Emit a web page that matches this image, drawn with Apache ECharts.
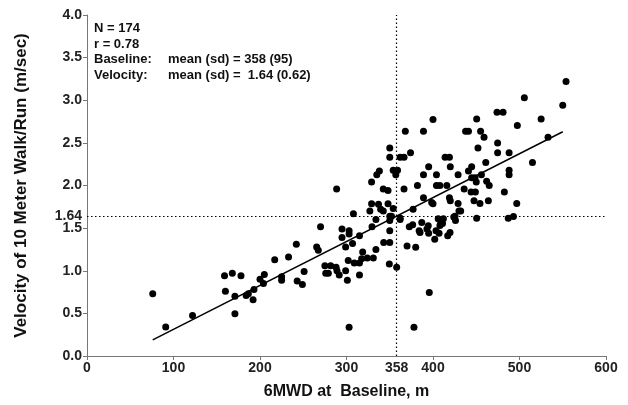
<!DOCTYPE html>
<html><head><meta charset="utf-8">
<script src="https://cdn.jsdelivr.net/npm/echarts@6/dist/echarts.min.js"></script>
<style>html,body{margin:0;padding:0;background:#fff}#c{width:628px;height:405px}</style>
</head><body><div id="c"></div>
<script>
// 6MWD at baseline (m) and velocity (m/sec) for each patient
const baseline6mwd = [
 76,91,122,159,160,168,178,171,171,184,186.5,193,192,200,205,204,217,225,225,233,242,243,249,251,
 265.5,267.4,270,275,281.7,276,279,288,289,291.6,294.8,294.8,303,303,307,299,299,301,302,303,309,315,315,315,318.7,317.5,324,331,329.5,334,334,
 343,350,349.5,350,350,358,362,370,372.6,376.5,380,384,387,393,395,395.7,378,402,407,406,409,412,417,419.7,426,
 400,368,389,350,350,374,362,366.5,354,359,357,338,335,329,342.5,348,288.6,366.5,382,389,395,404,414,419,420,429,404,408,416,
 389,398.5,400,419,420,430,329,327,337,339.5,342.5,348,354,350,352,362,308,377,394.5,411,408,424,403.5,385,
 553.8,550,505.6,474,481,525,497.5,533,450.5,437.7,441,455,459,474.7,452,474.7,488,515,461,444.7,441,456,444.7,448.5,488,488,450,462,465,436,444,449,482.5,
 429,447.4,454.3,464,496.8,432,425.4,450.5,487,493
];
const velocity = [
 0.73,0.34,0.475,0.94,0.76,0.97,0.94,0.70,0.495,0.71,0.73,0.78,0.66,0.90,0.955,0.85,1.13,0.93,0.89,1.16,1.31,0.88,0.84,0.99,
 1.28,1.24,1.515,1.06,1.06,0.97,0.97,1.04,1.00,0.95,1.49,1.39,1.47,1.43,1.32,1.28,1.00,0.89,1.12,0.336,1.09,1.09,1.41,0.95,1.22,1.14,1.15,1.15,1.515,1.25,1.60,
 1.33,1.33,1.08,1.47,1.59,1.04,1.60,1.29,1.515,1.54,1.275,1.47,1.565,1.49,1.44,0.745,0.336,1.37,1.44,1.61,1.565,1.61,1.41,1.45,1.59,
 2.775,2.635,2.635,2.44,2.33,2.385,2.33,2.33,2.18,2.18,2.125,2.17,2.125,2.04,1.96,1.94,1.96,1.96,2.0,2.125,2.22,2.125,2.33,2.33,2.22,2.125,2.0,2.0,2.0,
 1.855,1.80,1.785,1.855,1.82,1.70,1.785,1.70,1.78,1.72,1.70,1.785,1.73,1.64,1.64,1.62,1.67,1.72,1.527,1.555,1.53,1.63,1.47,1.45,
 3.22,2.94,3.03,2.86,2.86,2.78,2.705,2.565,2.78,2.635,2.635,2.635,2.565,2.50,2.44,2.385,2.385,2.27,2.27,2.22,2.17,2.125,2.09,2.09,2.18,2.125,2.04,2.05,2.0,1.96,1.925,1.925,1.925,
 1.79,1.82,1.79,1.82,1.79,1.70,1.64,1.615,1.615,1.635
];
// regression line end points
const fitX = [76, 550];
const fitY = [0.19, 2.63];
// reference lines (means)
const meanBaseline = 358;
const meanVelocity = 1.64;
const xTickLabels = [0,100,200,300,358,400,500,600];
const yTickLabels = [0,0.5,1,1.5,1.64,2,2.5,3,3.5,4];
const statsLeft = ['N = 174','r = 0.78','Baseline:','Velocity:'];
const statsRight = ['','','mean (sd) = 358 (95)','mean (sd) =  1.64 (0.62)'];

const pts = baseline6mwd.map((x,i)=>[x, velocity[i]]);
const fit = fitX.map((x,i)=>[x, fitY[i]]);
const chart = echarts.init(document.getElementById('c'), null, {renderer:'canvas'});
const FONT = 'Liberation Sans, Arial, sans-serif';
const lineFmt = (arr)=>arr.join('\n');
chart.setOption({
  animation:false,
  grid:{left:87,right:22,top:15,bottom:45,containLabel:false},
  xAxis:{type:'value',min:0,max:600,interval:100,
    name:'6MWD at  Baseline, m',nameLocation:'middle',nameGap:28,
    nameTextStyle:{fontFamily:FONT,fontWeight:'bold',fontSize:16,color:'#111'},
    axisLine:{lineStyle:{color:'#777',width:1}},
    axisTick:{show:true,length:4,lineStyle:{color:'#777'}},
    axisLabel:{customValues:xTickLabels,fontFamily:FONT,fontWeight:'bold',fontSize:14,color:'#222',margin:5,
      formatter:v=>String(v)},
    splitLine:{show:false}},
  yAxis:{type:'value',min:0,max:4,interval:0.5,
    name:'Velocity of 10 Meter Walk/Run (m/sec)',nameLocation:'middle',nameGap:57,
    nameTextStyle:{fontFamily:FONT,fontWeight:'bold',fontSize:17,color:'#111'},
    axisLine:{show:true,lineStyle:{color:'#777',width:1}},
    axisTick:{show:true,length:4,lineStyle:{color:'#777'}},
    axisLabel:{customValues:yTickLabels,fontFamily:FONT,fontWeight:'bold',fontSize:14,color:'#222',margin:5,
      formatter:v=>Math.abs(v-meanVelocity)<1e-9?String(meanVelocity):v.toFixed(1)},
    splitLine:{show:false}},
  series:[
    {type:'scatter',data:pts,symbol:'circle',symbolSize:7,itemStyle:{color:'#000',opacity:1},z:3},
    {type:'line',data:fit,symbol:'none',lineStyle:{color:'#000',width:1.5},z:2,
     markLine:{silent:true,symbol:'none',label:{show:false},
       lineStyle:{color:'#000',type:[1.5,2.5],width:1.2},
       data:[
         [{coord:[meanBaseline,0]},{coord:[meanBaseline,4]}],
         [{coord:[0,meanVelocity]},{coord:[600,meanVelocity]}]
       ]}}
  ],
  graphic:[
    {type:'text',left:94,top:21,style:{text:lineFmt(statsLeft),font:'bold 13px '+FONT,fill:'#111',lineHeight:15.5}},
    {type:'text',left:168,top:21,style:{text:lineFmt(statsRight),font:'bold 13px '+FONT,fill:'#111',lineHeight:15.5}}
  ]
});
</script></body></html>
